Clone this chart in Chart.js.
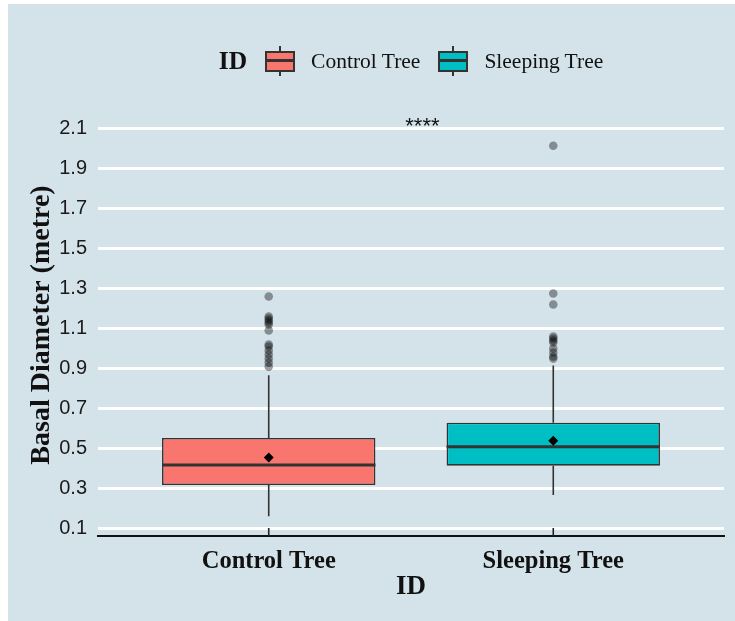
<!DOCTYPE html>
<html>
<head>
<meta charset="utf-8">
<script src="https://cdn.jsdelivr.net/npm/chart.js@4.4.1/dist/chart.umd.min.js"></script>
<style>
    body { margin: 0; background: #ffffff; }
    #panel { position: absolute; left: 8px; top: 4px; width: 727px; height: 617px; background: #d4e2ea; }
    #chart { position: absolute; left: 0; top: 0; }
    #legend {
        position: absolute; left: 90px; top: 37px; width: 626px; height: 40px;
        display: flex; align-items: center; justify-content: center;
        font-family: 'Liberation Serif', serif; color: #111;
    }
    #legend .title { font-weight: bold; font-size: 25.5px; margin-right: 18px; }
    #legend .label { font-size: 21.5px; margin-left: 16px; margin-right: 18px; }
    #legend .label:last-child { margin-right: 0; }
    .glyph { position: relative; width: 30px; height: 30px; }
    .glyph .whisker { position: absolute; left: 14px; top: 0; width: 2px; height: 30px; background: #333; }
    .glyph .box { position: absolute; left: 0; top: 5px; width: 26px; height: 17px; border: 2px solid #333; }
    .glyph .med { position: absolute; left: 0; top: 13px; width: 30px; height: 3px; background: #333; }
</style>
</head>
<body>
<div id="panel">
    <canvas id="chart" width="727" height="617"></canvas>
    <div id="legend"></div>
</div>
<script>
const groups = ['Control Tree', 'Sleeping Tree'];
const groupColors = ['#F8766D', '#00BFC4'];
const q1 = [0.319, 0.416];
const median = [0.419, 0.510];
const q3 = [0.554, 0.630];
const whiskerLow = [0.163, 0.270];
const whiskerHigh = [0.867, 0.915];
const means = [0.456, 0.540];
const outliersControl = [0.91, 0.93, 0.95, 0.97, 0.99, 1.01, 1.02, 1.09, 1.12, 1.13, 1.14, 1.15, 1.16, 1.26];
const outliersSleeping = [0.95, 0.96, 0.98, 1.00, 1.03, 1.04, 1.05, 1.06, 1.22, 1.275, 2.012];
const yTicks = [0.1, 0.3, 0.5, 0.7, 0.9, 1.1, 1.3, 1.5, 1.7, 1.9, 2.1];
const signifLabel = '****';

const serif = "'Liberation Serif', serif";

// legend (ggplot style, title inline)
const legendEl = document.getElementById('legend');
let legendHtml = '<span class="title">ID</span>';
groups.forEach((g, i) => {
    legendHtml += '<div class="glyph"><div class="whisker"></div>' +
        '<div class="box" style="background:' + groupColors[i] + '"></div><div class="med"></div></div>' +
        '<span class="label">' + g + '</span>';
});
legendEl.innerHTML = legendHtml;

const boxData = groups.map((g, i) => ({ x: i + 1, y: [q1[i], q3[i]] }));
const meanData = groups.map((g, i) => ({ x: i + 1, y: means[i] }));
const outlierData = outliersControl.map(v => ({ x: 1, y: v }))
    .concat(outliersSleeping.map(v => ({ x: 2, y: v })));

// whiskers, medians, inward x ticks and the significance stars
const boxExtras = {
    id: 'boxExtras',
    beforeDatasetsDraw(chart) {
        const { ctx, scales: { x, y } } = chart;
        ctx.save();
        ctx.strokeStyle = '#333333';
        ctx.lineWidth = 1.6;
        groups.forEach((g, i) => {
            const px = x.getPixelForValue(i + 1);
            ctx.beginPath();
            ctx.moveTo(px, y.getPixelForValue(whiskerHigh[i]));
            ctx.lineTo(px, y.getPixelForValue(q3[i]));
            ctx.moveTo(px, y.getPixelForValue(q1[i]));
            ctx.lineTo(px, y.getPixelForValue(whiskerLow[i]));
            ctx.stroke();
        });
        ctx.restore();
    },
    afterDatasetDraw(chart, args) {
        if (args.meta.type !== 'bar') return;
        const { ctx, scales: { y } } = chart;
        ctx.save();
        ctx.strokeStyle = '#333333';
        ctx.lineWidth = 3;
        args.meta.data.forEach((bar, i) => {
            const half = bar.width / 2;
            const py = y.getPixelForValue(median[i]);
            ctx.beginPath();
            ctx.moveTo(bar.x - half, py);
            ctx.lineTo(bar.x + half, py);
            ctx.stroke();
        });
        ctx.restore();
    },
    afterDraw(chart) {
        const { ctx, scales: { x, y }, chartArea } = chart;
        ctx.save();
        ctx.strokeStyle = '#222222';
        ctx.lineWidth = 1.6;
        groups.forEach((g, i) => {
            const px = x.getPixelForValue(i + 1);
            ctx.beginPath();
            ctx.moveTo(px, chartArea.bottom);
            ctx.lineTo(px, chartArea.bottom - 8);
            ctx.stroke();
        });
        ctx.fillStyle = '#111';
        ctx.font = "22px 'Liberation Sans', sans-serif";
        ctx.textAlign = 'center';
        ctx.textBaseline = 'alphabetic';
        ctx.fillText(signifLabel, x.getPixelForValue(1.54), y.getPixelForValue(2.075));
        ctx.restore();
    }
};

new Chart(document.getElementById('chart'), {
    data: {
        datasets: [
            {
                type: 'bar',
                data: boxData,
                backgroundColor: groupColors,
                borderColor: '#333333',
                borderWidth: 1.6,
                borderSkipped: false,
                barPercentage: 0.75,
                categoryPercentage: 1,
                order: 3
            },
            {
                type: 'scatter',
                data: outlierData,
                backgroundColor: 'rgba(0,0,0,0.38)',
                borderWidth: 0,
                pointRadius: 4.3,
                order: 2
            },
            {
                type: 'scatter',
                data: meanData,
                backgroundColor: '#000000',
                borderWidth: 0,
                pointStyle: 'rectRot',
                pointRadius: 5,
                order: 1
            }
        ]
    },
    options: {
        responsive: false,
        animation: false,
        layout: { padding: { top: 110, right: 11, bottom: 0, left: 0 } },
        plugins: {
            legend: { display: false },
            tooltip: { enabled: false }
        },
        scales: {
            x: {
                type: 'linear',
                min: 0.4,
                max: 2.6,
                offset: false,
                afterBuildTicks: (scale) => { scale.ticks = groups.map((g, i) => ({ value: i + 1 })); },
                afterFit: (scale) => { scale.height = 85; },
                ticks: {
                    callback: (v) => groups[v - 1],
                    font: { family: serif, size: 24.5, weight: 'bold' },
                    color: '#111',
                    padding: 11,
                    maxRotation: 0
                },
                grid: { display: false, drawTicks: false },
                border: { display: true, color: '#111', width: 2 },
                title: {
                    display: true,
                    text: 'ID',
                    font: { family: serif, size: 27, weight: 'bold' },
                    color: '#111',
                    padding: { top: 0, bottom: 18 }
                }
            },
            y: {
                type: 'linear',
                min: 0.065,
                max: 2.17,
                afterBuildTicks: (scale) => { scale.ticks = yTicks.map(v => ({ value: v })); },
                afterFit: (scale) => { scale.width = 90; },
                ticks: {
                    callback: (v) => v.toFixed(1),
                    font: { family: "'Liberation Sans', sans-serif", size: 20 },
                    color: '#1a1a1a',
                    padding: 11
                },
                grid: { color: '#ffffff', lineWidth: 3, drawTicks: false },
                border: { display: false },
                title: {
                    display: true,
                    text: 'Basal Diameter (metre)',
                    font: { family: serif, size: 28, weight: 'bold' },
                    color: '#111',
                    padding: { top: 17, bottom: 0 }
                }
            }
        }
    },
    plugins: [boxExtras]
});
</script>
</body>
</html>
